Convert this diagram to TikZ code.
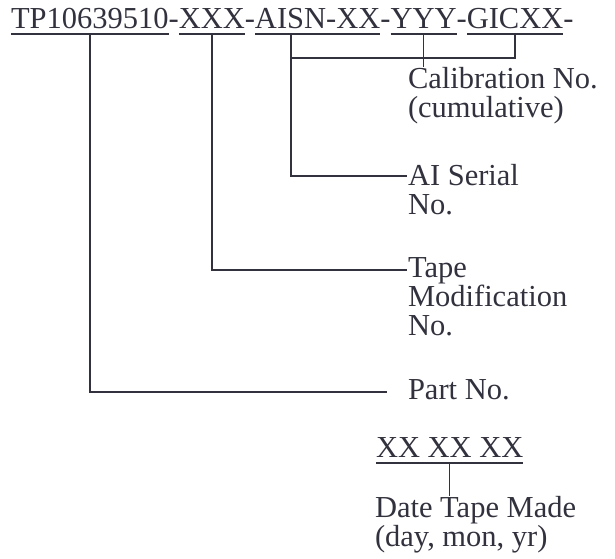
\documentclass[tikz,border=0pt]{standalone}
\usepackage{fontspec}
\setmainfont{Liberation Serif}
\usepackage{tikz}
\usetikzlibrary{positioning,calc}
\definecolor{ink}{RGB}{50,50,62}
\tikzset{
  pn/seg/.style={inner sep=0pt, outer sep=0pt, text=ink, font=\fontsize{30.5}{29}\selectfont},
  pn/label/.style={pn/seg, align=left, anchor=north west},
  pn/lead/.style={draw=ink, line width=2pt},
  pn/uline/.style={draw=ink, line width=1.8pt},
  pn/tick/.style={draw=ink, line width=1.2pt}
}

\begin{document}
\begin{tikzpicture}[x=1pt, y=1pt]
\useasboundingbox (0,0) rectangle (615,-558);

% the number, one piece per node
\node[pn/seg, anchor=base west] (tp) at (11,-28) {TP10639510};
\node[pn/seg, base right=0pt of tp] (d1) {-};
\node[pn/seg, base right=0pt of d1] (xxx) {XXX};
\node[pn/seg, base right=0pt of xxx] (d2) {-};
\node[pn/seg, base right=0pt of d2] (aisn) {AISN};
\node[pn/seg, base right=0pt of aisn] (d3) {-};
\node[pn/seg, base right=0pt of d3] (xx) {XX};
\node[pn/seg, base right=0pt of xx] (d4) {-};
\node[pn/seg, base right=0pt of d4] (yyy) {YYY};
\node[pn/seg, base right=0pt of yyy] (d5) {-};
\node[pn/seg, base right=0pt of d5] (gicxx) {GICXX};
\node[pn/seg, base right=0pt of gicxx] (d6) {-};

\node[pn/label] (calib) at (408,-67) {Calibration No.\\(cumulative)};
\node[pn/label] (serial) at (408,-164) {AI Serial\\No.};
\node[pn/label] (tape) at (408,-258) {Tape\\Modification\\No.};
\node[pn/label] (part) at (408,-380) {Part No.};

\node[pn/seg, anchor=base west] (date) at (376,-457) {XX XX XX};
\node[pn/label] (dated) at (375,-496) {Date Tape Made\\(day, mon, yr)};

\foreach \a/\b in {tp/tp, xxx/xxx, aisn/xx, yyy/yyy, gicxx/gicxx, date/date}
  \draw[pn/uline] ([yshift=-6pt]\a.base west) -- ([yshift=-6pt]\b.base east);

\draw[pn/lead] ([yshift=-6pt]tp.base) |- ([xshift=-21pt,yshift=-12pt]part.north west);
\draw[pn/lead] ([yshift=-6pt]xxx.base) |- ([xshift=-1pt,yshift=-12pt]tape.north west);
\draw[pn/lead] ([yshift=-6pt]aisn.base) |- ([xshift=-1pt,yshift=-12pt]serial.north west);
\draw[pn/lead] ([yshift=-6pt]gicxx.base) |- ([yshift=-30pt]aisn.base);

\draw[pn/tick] ([yshift=-6pt]yyy.base) -- (yyy.base |- calib.north);
\draw[pn/tick] ([yshift=-6pt]date.base) -- (date.base |- dated.north);

\end{tikzpicture}
\end{document}
